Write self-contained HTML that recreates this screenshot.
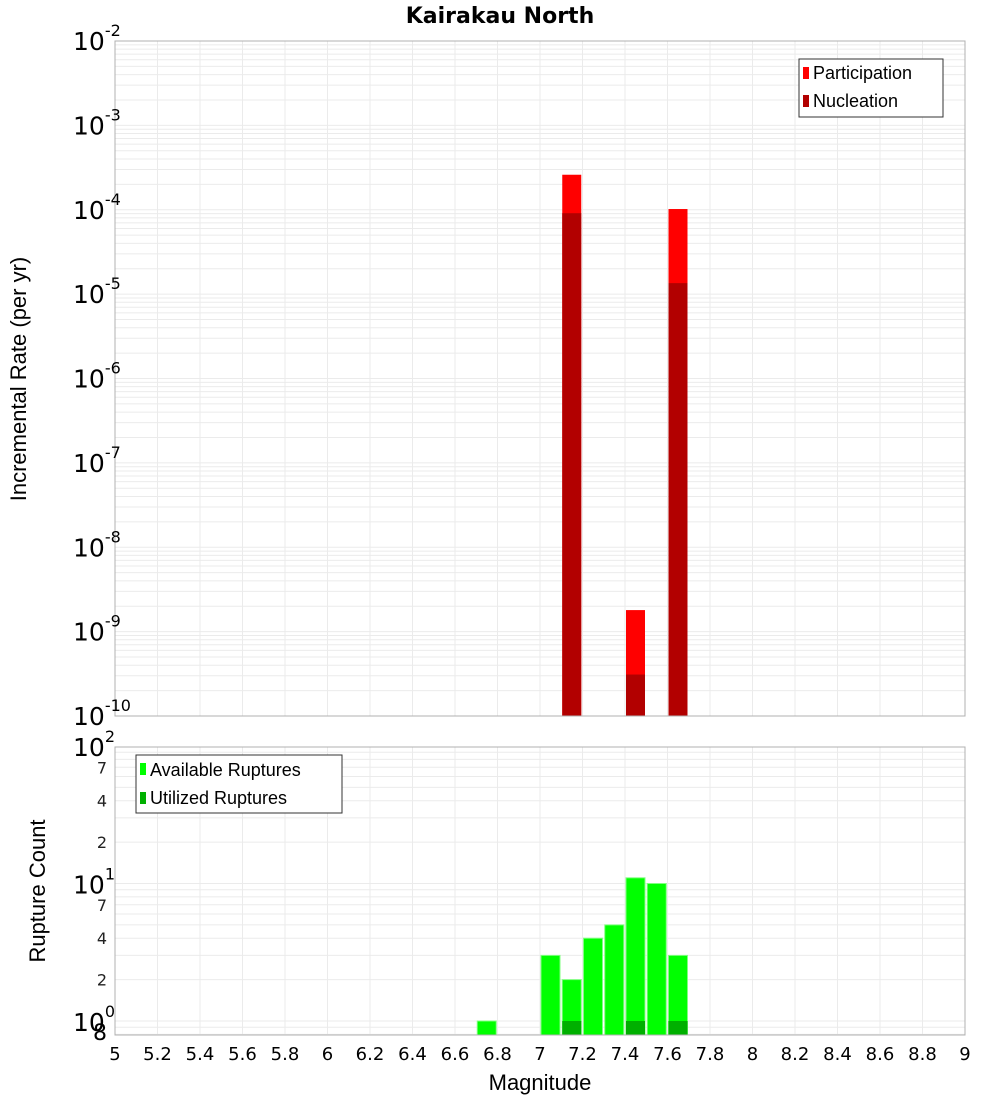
<!DOCTYPE html>
<html><head><meta charset="utf-8">
<style>
body{margin:0;background:#fff;}
svg{display:block;font-family:"Liberation Sans","DejaVu Sans",sans-serif;}
</style></head>
<body>
<svg id="chart" width="1000" height="1100" xmlns="http://www.w3.org/2000/svg">
<text x="500" y="23" text-anchor="middle" font-size="22" font-weight="bold" font-family="DejaVu Sans, sans-serif">Kairakau North</text>
</svg>
<script>
// data
const rateBins = [7.1, 7.4, 7.6];
const participation = [2.6e-4, 1.8e-9, 1.02e-4];
const nucleation = [9.1e-5, 3.1e-10, 1.35e-5];
const countBins = [6.7, 7.0, 7.1, 7.2, 7.3, 7.4, 7.5, 7.6];
const available = [1, 3, 2, 4, 5, 11, 10, 3];
const utilizedBins = [7.1, 7.4, 7.6];
const utilized = [1, 1, 1];
const xTicks = [5,5.2,5.4,5.6,5.8,6,6.2,6.4,6.6,6.8,7,7.2,7.4,7.6,7.8,8,8.2,8.4,8.6,8.8,9];
const topExps = [-2,-3,-4,-5,-6,-7,-8,-9,-10];
const botMinor = [2,4,7];

const NS = "http://www.w3.org/2000/svg";
const svg = document.getElementById('chart');
function mk(tag, attrs, parent){ const e=document.createElementNS(NS,tag); for(const k in attrs) e.setAttribute(k,attrs[k]); (parent||svg).appendChild(e); return e; }

const X0=115, X1=965;
const x = m => X0 + (m-5)/(9-5)*(X1-X0);
const T0=41, T1=716;
const yTop = v => T0 + (-2 - Math.log10(v))/8*(T1-T0);
const B0=747, B1=1035, Bdec=137.5, Bone=1021;
const yBot = v => Bone - Math.log10(v)*Bdec;

// frames
mk('rect',{x:X0,y:T0,width:X1-X0,height:T1-T0,fill:'#fff',stroke:'#b0b0b0'});
mk('rect',{x:X0,y:B0,width:X1-X0,height:B1-B0,fill:'#fff',stroke:'#b0b0b0'});
const grid = mk('g',{stroke:'#ebebeb','stroke-width':1});


xTicks.forEach(t=>{
  mk('line',{x1:x(t),x2:x(t),y1:T0,y2:T1},grid);
  mk('line',{x1:x(t),x2:x(t),y1:B0,y2:B1},grid);
});
for(let e=-10;e<-2;e++){ for(let k=1;k<10;k++){ const y=yTop(k*Math.pow(10,e)); if(y>T0&&y<T1) mk('line',{x1:X0,x2:X1,y1:y,y2:y},grid);} }
for(let e=-1;e<2;e++){ for(let k=1;k<10;k++){ const y=yBot(k*Math.pow(10,e)); if(y>B0&&y<B1) mk('line',{x1:X0,x2:X1,y1:y,y2:y},grid);} }

// top bars
rateBins.forEach((m,i)=>{
  const b=mk('rect',{x:x(m)+1,y:yTop(participation[i]),width:19,height:T1-yTop(participation[i]),fill:'#ff0000'});
  
  
  const n=mk('rect',{x:x(m)+1,y:yTop(nucleation[i]),width:19,height:T1-yTop(nucleation[i]),fill:'#b20000'});
  
  
});
// bottom bars
countBins.forEach((m,i)=>{
  const b=mk('rect',{x:x(m)+1,y:yBot(available[i]),width:19,height:B1-yBot(available[i]),fill:'#00ff00',stroke:'#80ff80','stroke-width':1});
  
  
});
utilizedBins.forEach((m,i)=>{
  const b=mk('rect',{x:x(m)+1,y:yBot(utilized[i]),width:19,height:B1-yBot(utilized[i]),fill:'#00b000'});
  
  
});
mk('rect',{x:X0,y:T0,width:X1-X0,height:T1-T0,fill:'none',stroke:'#b0b0b0'});
mk('rect',{x:X0,y:B0,width:X1-X0,height:B1-B0,fill:'none',stroke:'#b0b0b0'});

// top y labels
topExps.forEach(e=>{
  const y=yTop(Math.pow(10,e));
  const t=mk('text',{x:73,y:y+9,'font-size':25,fill:'#000','font-family':'DejaVu Sans, sans-serif'});
  
  
  t.textContent='10';
  const s=mk('tspan',{dy:-14,'font-size':16},t); s.textContent=String(e);
});
// bottom y labels
[2,1,0].forEach(e=>{
  const y=yBot(Math.pow(10,e));
  const t=mk('text',{x:73,y:y+10,'font-size':25,fill:'#000','font-family':'DejaVu Sans, sans-serif'});
  
  
  t.textContent='10';
  const s=mk('tspan',{dy:-14,'font-size':16},t); s.textContent=String(e);
});
[1,0].forEach(e=>{ botMinor.forEach(k=>{
  const y=yBot(k*Math.pow(10,e));
  const t=mk('text',{x:107,y:y+6,'font-size':16,'text-anchor':'end',fill:'#222','font-family':'DejaVu Sans, sans-serif'});
  
  
  t.textContent=String(k);
});});
{const t=mk('text',{x:107,y:1040,'font-size':22,'text-anchor':'end',fill:'#000','font-family':'DejaVu Sans, sans-serif'});


t.textContent='8';}

// x labels
xTicks.forEach(tk=>{
  const t=mk('text',{x:x(tk),y:1060,'font-size':18,'text-anchor':'middle',fill:'#000','font-family':'DejaVu Sans, sans-serif'});
  
  
  t.textContent=String(tk);
});
</script>
<svg style="position:absolute;left:0;top:0" width="1000" height="1100" xmlns="http://www.w3.org/2000/svg" font-family="DejaVu Sans, sans-serif">
<text x="540" y="1090" text-anchor="middle" font-size="22">Magnitude</text>
<text transform="translate(26,379) rotate(-90)" text-anchor="middle" font-size="22">Incremental Rate (per yr)</text>
<text transform="translate(45,891) rotate(-90)" text-anchor="middle" font-size="22">Rupture Count</text>
<g>
<rect x="799" y="59" width="144" height="58" fill="#fff" stroke="#333"/>
<rect x="803" y="67" width="6" height="12" fill="#ff0000"/>
<text x="813" y="79" font-size="18">Participation</text>
<rect x="803" y="95" width="6" height="12" fill="#b20000"/>
<text x="813" y="107" font-size="18">Nucleation</text>
</g>
<g>
<rect x="136" y="755" width="206" height="58" fill="#fff" stroke="#333"/>
<rect x="140" y="763" width="6" height="12" fill="#00ff00"/>
<text x="150" y="776" font-size="18">Available Ruptures</text>
<rect x="140" y="792" width="6" height="12" fill="#00b000"/>
<text x="150" y="804" font-size="18">Utilized Ruptures</text>
</g>
</svg>
</body></html>
